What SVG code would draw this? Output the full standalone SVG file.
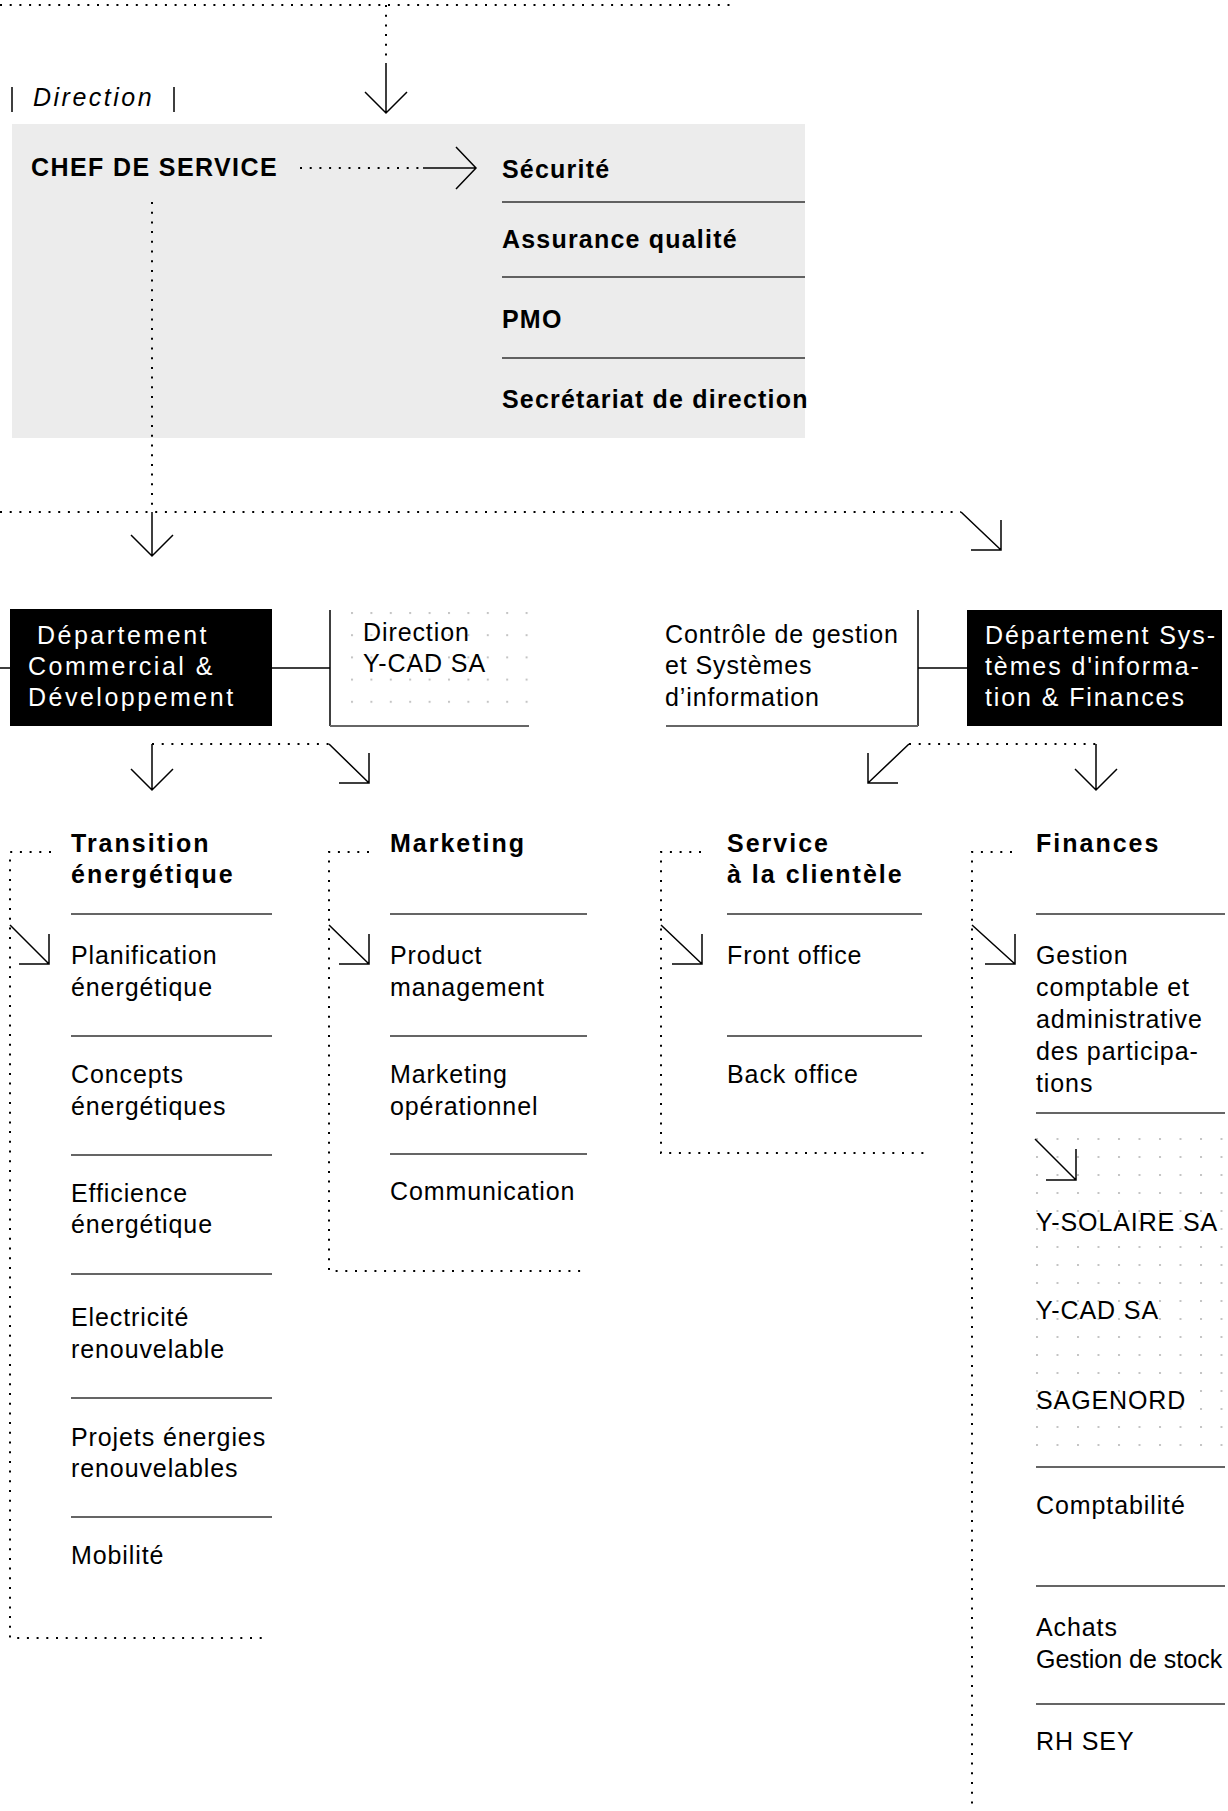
<svg xmlns="http://www.w3.org/2000/svg" width="1228" height="1811" viewBox="0 0 1228 1811">
<style>
text{font-family:"Liberation Sans",Arial,sans-serif;font-size:25px;fill:#000}
.b{font-weight:bold;letter-spacing:1.4px}
.h{font-weight:bold;letter-spacing:2px}
.r{letter-spacing:0.9px}
.w{fill:#fff;letter-spacing:2.5px}
.w2{fill:#fff;letter-spacing:1.9px}
.i{font-style:italic;letter-spacing:2.5px}
.dot{fill:none;stroke:#000;stroke-width:2;stroke-dasharray:2 7.7}
.ln{fill:none;stroke:#000;stroke-width:1.5}
.sep{fill:none;stroke:#333;stroke-width:1.5}
.base{fill:none;stroke:#666;stroke-width:2.2}
</style>
<defs>
<pattern id="g1" patternUnits="userSpaceOnUse" x="351" y="612" width="19.4" height="22.2"><rect width="2" height="2" fill="#c4c4c4"/></pattern>
<pattern id="g2" patternUnits="userSpaceOnUse" x="1036" y="1138" width="20.5" height="18"><rect width="2" height="2" fill="#c4c4c4"/></pattern>
</defs>

<g id="direction-label">
<path class="ln" d="M12 87 V112 M174 87 V112"/>
<text class="i" x="33" y="106">Direction</text>
</g>

<g id="direction">
<rect x="12" y="124" width="793" height="314" fill="#ececec"/>
<text class="b" x="31" y="176">CHEF DE SERVICE</text>
<text class="b" x="502" y="178" style="letter-spacing:1.2px">Sécurité</text>
<path class="sep" d="M502 202 H805 M502 277 H805 M502 358 H805"/>
<text class="b" x="502" y="248" style="letter-spacing:1.2px">Assurance qualité</text>
<text class="b" x="502" y="328" style="letter-spacing:1.2px">PMO</text>
<text class="b" x="502" y="408" style="letter-spacing:1.2px">Secrétariat de direction</text>
</g>

<g id="dept-commercial">
<rect x="10" y="609" width="262" height="117" fill="#000"/>
<text class="w" x="37" y="644">Département</text>
<text class="w" x="28" y="675">Commercial &amp;</text>
<text class="w" x="28" y="706">Développement</text>
</g>

<g id="direction-ycad">
<rect x="340" y="603" width="190" height="106" fill="url(#g1)"/>
<path class="ln" d="M330 610 V726"/>
<path class="base" d="M330 726 H529"/>
<text class="r" x="363" y="641">Direction</text>
<text class="r" x="363" y="672">Y-CAD SA</text>
</g>

<g id="controle-gestion">
<path class="ln" d="M918 610 V726"/>
<path class="base" d="M666 726 H918"/>
<text class="r" x="665" y="643">Contrôle de gestion</text>
<text class="r" x="665" y="674">et Systèmes</text>
<text class="r" x="665" y="706">d’information</text>
</g>

<g id="dept-si">
<rect x="967" y="610" width="255" height="116" fill="#000"/>
<text class="w2" x="985" y="644">Département Sys-</text>
<text class="w2" x="985" y="675">tèmes d'informa-</text>
<text class="w2" x="985" y="706">tion &amp; Finances</text>
</g>

<g id="transition-energetique">
<text class="h" x="71" y="852">Transition</text>
<text class="h" x="71" y="883">énergétique</text>
<path class="sep" d="M71 914 H272 M71 1036 H272 M71 1155 H272 M71 1274 H272 M71 1398 H272 M71 1517 H272"/>
<text class="r" x="71" y="964">Planification</text>
<text class="r" x="71" y="996">énergétique</text>
<text class="r" x="71" y="1083">Concepts</text>
<text class="r" x="71" y="1115">énergétiques</text>
<text class="r" x="71" y="1202">Efficience</text>
<text class="r" x="71" y="1233">énergétique</text>
<text class="r" x="71" y="1326">Electricité</text>
<text class="r" x="71" y="1358">renouvelable</text>
<text class="r" x="71" y="1446">Projets énergies</text>
<text class="r" x="71" y="1477">renouvelables</text>
<text class="r" x="71" y="1564">Mobilité</text>
</g>

<g id="marketing">
<text class="h" x="390" y="852">Marketing</text>
<path class="sep" d="M390 914 H587 M390 1036 H587 M390 1154 H587"/>
<text class="r" x="390" y="964">Product</text>
<text class="r" x="390" y="996">management</text>
<text class="r" x="390" y="1083">Marketing</text>
<text class="r" x="390" y="1115">opérationnel</text>
<text class="r" x="390" y="1200">Communication</text>
</g>

<g id="service-clientele">
<text class="h" x="727" y="852">Service</text>
<text class="h" x="727" y="883">à la clientèle</text>
<path class="sep" d="M727 914 H922 M727 1036 H922"/>
<text class="r" x="727" y="964">Front office</text>
<text class="r" x="727" y="1083">Back office</text>
</g>

<g id="finances">
<rect x="1030" y="1130" width="198" height="322" fill="url(#g2)"/>
<text class="h" x="1036" y="852">Finances</text>
<path class="sep" d="M1036 914 H1225 M1036 1113 H1225 M1036 1467 H1225 M1036 1586 H1225 M1036 1704 H1225"/>
<text class="r" x="1036" y="964">Gestion</text>
<text class="r" x="1036" y="996">comptable et</text>
<text class="r" x="1036" y="1028">administrative</text>
<text class="r" x="1036" y="1060">des participa-</text>
<text class="r" x="1036" y="1092">tions</text>
<text class="r" x="1036" y="1231">Y-SOLAIRE SA</text>
<text class="r" x="1036" y="1319">Y-CAD SA</text>
<text class="r" x="1036" y="1409">SAGENORD</text>
<text class="r" x="1036" y="1514">Comptabilité</text>
<text class="r" x="1036" y="1636">Achats</text>
<text x="1036" y="1668">Gestion de stock</text>
<text class="r" x="1036" y="1750">RH SEY</text>
</g>

<g id="connectors">
<path class="dot" d="M0 5 H730"/>
<path class="dot" d="M386 5 V63"/>
<path class="ln" d="M386 63 V113 M365 92 L386 113 L407 92"/>
<path class="dot" d="M300 168 H423"/>
<path class="ln" d="M423 168 H476 M456 147 L476 168 L456 189"/>
<path class="dot" d="M152 202 V512"/>
<path class="dot" d="M0 512 H961"/>
<path class="ln" d="M152 512 V556 M131 535 L152 556 L173 535"/>
<path class="ln" d="M961 512 L1001 550 M1001 520 V550 H971"/>
<path class="ln" d="M0 668 H10 M272 668 H330 M918 668 H967"/>
<path class="dot" d="M152 744 H329"/>
<path class="ln" d="M152 744 V790 M131 769 L152 790 L173 769"/>
<path class="ln" d="M329 744 L369 783 M369 753 V783 H339"/>
<path class="dot" d="M909 744 H1096"/>
<path class="ln" d="M909 744 L868 783 M868 753 V783 H898"/>
<path class="ln" d="M1096 744 V790 M1075 769 L1096 790 L1117 769"/>
<path class="dot" d="M51 852 H10 V1638 H269"/>
<path class="dot" d="M369 852 H329 V1271 H587"/>
<path class="dot" d="M701 852 H661 V1153 H930"/>
<path class="dot" d="M1012 852 H972 V1811"/>
<path class="ln" d="M10 925 L49 964 M49 934 V964 H19"/>
<path class="ln" d="M329 925 L369 964 M369 934 V964 H339"/>
<path class="ln" d="M661 925 L702 964 M702 934 V964 H672"/>
<path class="ln" d="M972 925 L1015 964 M1015 934 V964 H985"/>
<path class="ln" d="M1035 1139 L1076 1180 M1076 1149 V1180 H1046"/>
</g>
</svg>
